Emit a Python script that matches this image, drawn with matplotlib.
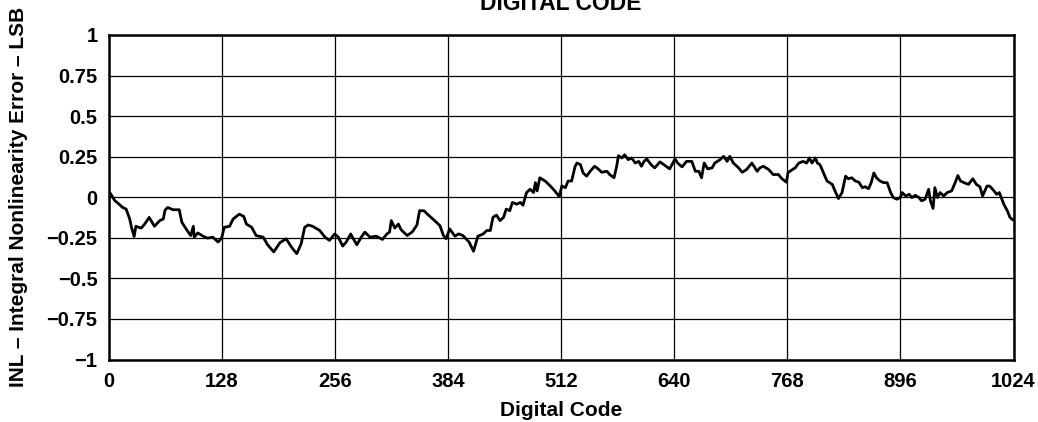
import matplotlib
matplotlib.use("Agg")
import matplotlib.pyplot as plt

plt.rcParams['font.family'] = ['Liberation Sans', 'DejaVu Sans']

codes = [0, 2, 7, 12, 16, 20, 24, 26, 29, 31, 37, 41, 46, 52, 58, 62, 64, 67, 73, 80,
         83, 89, 93, 96, 97, 101, 107, 112, 118, 124, 128, 131, 137, 141, 148, 153, 156,
         162, 167, 175, 180, 187, 194, 201, 207, 213, 218, 222, 226, 231, 239, 245, 250,
         256, 260, 265, 269, 274, 277, 281, 286, 290, 296, 303, 310, 315, 318, 320, 324,
         328, 331, 338, 344, 349, 352, 357, 362, 369, 375, 379, 382, 386, 392, 396, 401,
         408, 413, 418, 424, 428, 432, 435, 439, 443, 447, 450, 454, 457, 462, 466, 469,
         473, 477, 481, 483, 485, 488, 494, 500, 505, 510, 513, 517, 520, 524, 528, 530,
         534, 537, 541, 545, 550, 554, 558, 564, 567, 572, 575, 577, 581, 584, 588, 592,
         596, 600, 603, 606, 609, 614, 618, 624, 630, 635, 641, 644, 649, 654, 660, 664,
         668, 671, 674, 678, 683, 686, 692, 696, 700, 703, 707, 713, 717, 722, 728, 734,
         737, 741, 747, 752, 758, 762, 767, 769, 771, 775, 777, 781, 786, 790, 793, 796,
         800, 802, 805, 809, 813, 819, 822, 826, 830, 834, 837, 841, 845, 849, 853, 856,
         860, 863, 866, 869, 873, 877, 881, 885, 888, 892, 896, 898, 902, 906, 909, 913,
         917, 920, 924, 928, 930, 933, 935, 938, 941, 945, 949, 954, 958, 961, 964, 968,
         973, 978, 982, 986, 989, 994, 997, 1002, 1005, 1008, 1013, 1017, 1020, 1023]

inl = [0.01, 0.025, -0.02, -0.043, -0.063, -0.073, -0.134, -0.185, -0.242, -0.179, -0.19,
       -0.165, -0.124, -0.179, -0.144, -0.134, -0.079, -0.063, -0.077, -0.077,
       -0.154, -0.205, -0.236, -0.179, -0.246, -0.22, -0.24, -0.252, -0.246, -0.276,
       -0.252, -0.185, -0.179, -0.134, -0.104, -0.118, -0.165,
       -0.185, -0.236, -0.246, -0.293, -0.337, -0.28, -0.256, -0.307, -0.348, -0.287,
       -0.185, -0.171, -0.179, -0.205, -0.246, -0.266,
       -0.226, -0.246, -0.301, -0.276, -0.226, -0.256, -0.293, -0.246, -0.215, -0.246,
       -0.24, -0.26, -0.226, -0.215, -0.144, -0.19,
       -0.165, -0.2, -0.236, -0.212, -0.171, -0.083, -0.083, -0.11, -0.144, -0.175,
       -0.236, -0.256, -0.195, -0.24, -0.226, -0.236,
       -0.276, -0.333, -0.24, -0.226, -0.205, -0.205, -0.124, -0.11, -0.144, -0.124,
       -0.073, -0.083, -0.032, -0.043, -0.032, -0.049,
       0.029, 0.049, 0.029, 0.09, 0.039, 0.12, 0.1, 0.069, 0.039, 0.004, 0.07, 0.059,
       0.1, 0.1, 0.191, 0.211,
       0.201, 0.15, 0.13, 0.16, 0.191, 0.175, 0.154, 0.16, 0.14, 0.12, 0.191, 0.256,
       0.242, 0.262, 0.232, 0.242,
       0.211, 0.221, 0.191, 0.221, 0.236, 0.201, 0.181, 0.218, 0.195, 0.175, 0.236,
       0.211, 0.187, 0.221, 0.221, 0.16,
       0.16, 0.12, 0.211, 0.175, 0.181, 0.211, 0.232, 0.252, 0.221, 0.252, 0.211,
       0.181, 0.154, 0.171, 0.211, 0.16,
       0.181, 0.191, 0.171, 0.14, 0.14, 0.114, 0.093, 0.154, 0.16, 0.175, 0.181,
       0.211, 0.221, 0.211, 0.242, 0.211,
       0.242, 0.211, 0.201, 0.15, 0.1, 0.079, 0.039, -0.008, 0.029, 0.13, 0.114, 0.12,
       0.1, 0.093, 0.059, 0.065,
       0.053, 0.09, 0.15, 0.12, 0.1, 0.09, 0.09, 0.029, -0.002, -0.012, -0.002, 0.029,
       0.008, 0.018, -0.002, 0.012,
       -0.002, -0.022, -0.012, 0.049, -0.022, -0.069, 0.059, -0.002, 0.029, 0.008,
       0.029, 0.039, 0.09, 0.134, 0.1, 0.09,
       0.079, 0.114, 0.079, 0.065, 0.008, 0.069, 0.069, 0.039, 0.018, 0.029, -0.043,
       -0.083, -0.124, -0.138]

x_ticks = [0, 128, 256, 384, 512, 640, 768, 896, 1024]
y_ticks = [-1, -0.75, -0.5, -0.25, 0, 0.25, 0.5, 0.75, 1]
y_tick_labels = ['\u22121', '\u22120.75', '\u22120.5', '\u22120.25', '0', '0.25', '0.5', '0.75', '1']

fig = plt.figure(figsize=(10.38, 4.22), dpi=100)
ax = fig.add_axes([108.5 / 1038, 1 - 359.5 / 422, (1013.5 - 108.5) / 1038, (359.5 - 35) / 422])

ax.plot(codes, inl, color='black', linewidth=2.0, solid_joinstyle='round')
ax.set_xlim(0, 1024)
ax.set_ylim(-1, 1)
ax.set_xticks(x_ticks)
ax.set_xticklabels([str(t) for t in x_ticks], fontsize=14.5, fontweight='bold')
ax.set_yticks(y_ticks)
ax.set_yticklabels(y_tick_labels, fontsize=14.5, fontweight='bold')
ax.tick_params(axis='x', length=0, pad=9)
ax.tick_params(axis='y', length=0, pad=8)
ax.grid(True, color='black', linewidth=0.9)
for s in ax.spines.values():
    s.set_linewidth(1.8)
    s.set_color('black')

ax.set_xlabel('Digital Code', fontsize=15, fontweight='bold')
ax.xaxis.set_label_coords(0.5, -(401 - 359.5) / 324.5)
ax.set_ylabel('INL \u2013 Integral Nonlinearity Error \u2013 LSB', fontsize=15, fontweight='bold')
ax.yaxis.set_label_coords(-(108.5 - 28) / 905, 0.5)
fig.text((108.5 + 1013.5) / 2 / 1038, 1 - 9.5 / 422, 'DIGITAL CODE', ha='center', va='baseline',
         fontsize=16.5, fontweight='bold')

fig.savefig('out.png', dpi=100)
